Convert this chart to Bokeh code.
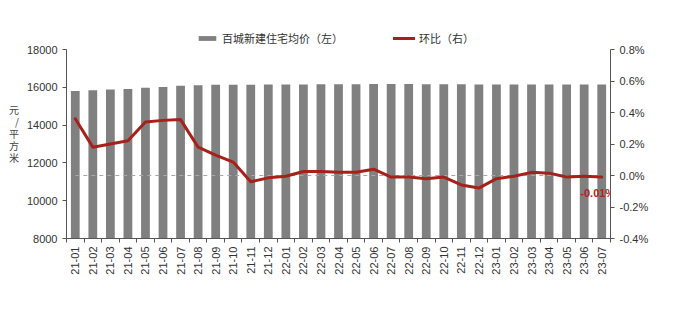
from bokeh.plotting import figure
from bokeh.models import (Range1d, LinearAxis, FixedTicker, PrintfTickFormatter,
                          Legend, LegendItem, ColumnDataSource)
from bokeh.core.properties import value
from bokeh.embed import file_html
from bokeh.resources import INLINE

months = ["21-01", "21-02", "21-03", "21-04", "21-05", "21-06", "21-07", "21-08",
          "21-09", "21-10", "21-11", "21-12", "22-01", "22-02", "22-03", "22-04",
          "22-05", "22-06", "22-07", "22-08", "22-09", "22-10", "22-11", "22-12",
          "23-01", "23-02", "23-03", "23-04", "23-05", "23-06", "23-07"]
prices = [15800, 15840, 15880, 15910, 15970, 16020, 16080, 16110, 16130, 16140,
          16140, 16145, 16150, 16150, 16155, 16160, 16163, 16170, 16170, 16168,
          16165, 16163, 16155, 16145, 16143, 16142, 16145, 16148, 16146, 16145, 16145]
mom = [0.36, 0.18, 0.20, 0.22, 0.34, 0.35, 0.355, 0.18, 0.13, 0.085, -0.04, -0.015,
       -0.005, 0.025, 0.025, 0.02, 0.02, 0.04, -0.01, -0.01, -0.02, -0.01, -0.06,
       -0.08, -0.02, -0.005, 0.02, 0.015, -0.01, -0.005, -0.01]
left_ticks = [8000, 10000, 12000, 14000, 16000, 18000]
right_ticks = [-0.4, -0.2, 0.0, 0.2, 0.4, 0.6, 0.8]
bar_name = "百城新建住宅均价（左）"
line_name = "环比（右）"
unit_chars = ["元", "/", "平", "方", "米"]
last_label = "-0.01%"

n = len(months)
xs = [i + 0.5 for i in range(n)]
src = ColumnDataSource(dict(x=xs, price=prices, mom=mom, m=months))

FONT = "Liberation Sans"
TXT = "#333333"
AX = "#555555"

TOP, BOT = 28, 75
frame_h = 313 - TOP - BOT          # 210 px
axis_h = 189                       # px spanned by the tick range
lmin, lmax = left_ticks[0], left_ticks[-1]
rmin, rmax = right_ticks[0], right_ticks[-1]
l_end = lmin + (lmax - lmin) * frame_h / axis_h
r_end = rmin + (rmax - rmin) * frame_h / axis_h

p = figure(width=682, height=313, output_backend="svg", toolbar_location=None,
           x_range=Range1d(0, n), y_range=Range1d(lmin, l_end),
           min_border_left=66, min_border_right=72, min_border_top=TOP,
           min_border_bottom=BOT, outline_line_color=None,
           background_fill_color="white", border_fill_color="white")
p.xgrid.visible = False
p.ygrid.visible = False
p.extra_y_ranges = {"r": Range1d(rmin, r_end)}

bars = p.vbar(x="x", top="price", bottom=lmin, width=0.5, source=src,
              fill_color="#808080", line_color=None)
p.segment(x0=[xs[0]], y0=[0], x1=[xs[-1]], y1=[0], y_range_name="r",
          line_color="#a8a8a8", line_dash="4 4", line_width=1)
ln = p.line(x="x", y="mom", source=src, y_range_name="r", line_color="#A8201A",
            line_width=3, line_join="round", line_cap="round")
p.text(x=[xs[-1]], y=[mom[-1]], text=[last_label], y_range_name="r",
       text_font=value(FONT), text_font_size="11px", text_font_style="bold",
       text_color="#B22222", text_align="center", text_baseline="middle",
       x_offset=-4, y_offset=16)

# left axis
ya = p.yaxis[0]
ya.ticker = FixedTicker(ticks=left_ticks)
ya.bounds = (lmin, lmax)
ya.minor_tick_line_color = None
ya.major_tick_in = 0
ya.major_tick_out = 4
ya.axis_line_color = AX
ya.major_tick_line_color = AX
ya.major_label_text_font = FONT
ya.major_label_text_font_size = "11px"
ya.major_label_text_color = TXT
ya.axis_label_text_font = "Noto Sans CJK SC"
ya.axis_label_text_font_size = "10px"
ya.axis_label_text_font_style = "normal"
ya.axis_label_text_color = "#444444"
ya.axis_label_standoff = 5
try:
    ya.axis_label_orientation = "horizontal"
    ya.axis_label = "\n".join(unit_chars)
    ya.axis_label_text_line_height = 0.8
except Exception:
    ya.axis_label = "".join(unit_chars)

# right axis
ra = LinearAxis(y_range_name="r", ticker=FixedTicker(ticks=right_ticks),
                formatter=PrintfTickFormatter(format="%.1f%%"), bounds=(rmin, rmax))
ra.minor_tick_line_color = None
ra.major_tick_in = 0
ra.major_tick_out = 4
ra.axis_line_color = AX
ra.major_tick_line_color = AX
ra.major_label_text_font = FONT
ra.major_label_text_font_size = "11px"
ra.major_label_text_color = TXT
p.add_layout(ra, "right")

# bottom axis
xa = p.xaxis[0]
xa.ticker = FixedTicker(ticks=xs, minor_ticks=list(range(n + 1)))
xa.major_label_overrides = {x: m for x, m in zip(xs, months)}
xa.major_label_orientation = 1.5708
xa.major_tick_in = 0
xa.major_tick_out = 0
xa.minor_tick_in = 0
xa.minor_tick_out = 4
xa.minor_tick_line_color = AX
xa.axis_line_color = AX
xa.major_label_standoff = 4
xa.major_label_text_font = FONT
xa.major_label_text_font_size = "11px"
xa.major_label_text_color = TXT

legend = Legend(items=[LegendItem(label=bar_name, renderers=[bars]),
                       LegendItem(label=line_name, renderers=[ln])],
                orientation="horizontal", location=(130, 192),
                glyph_width=22, glyph_height=6, label_height=12,
                label_standoff=4, spacing=50, padding=0, margin=0,
                border_line_color=None, background_fill_alpha=0,
                label_text_font="Noto Sans CJK SC", label_text_font_size="11px",
                label_text_color=TXT)
p.add_layout(legend)

open("out.html", "w").write(file_html(p, INLINE))
